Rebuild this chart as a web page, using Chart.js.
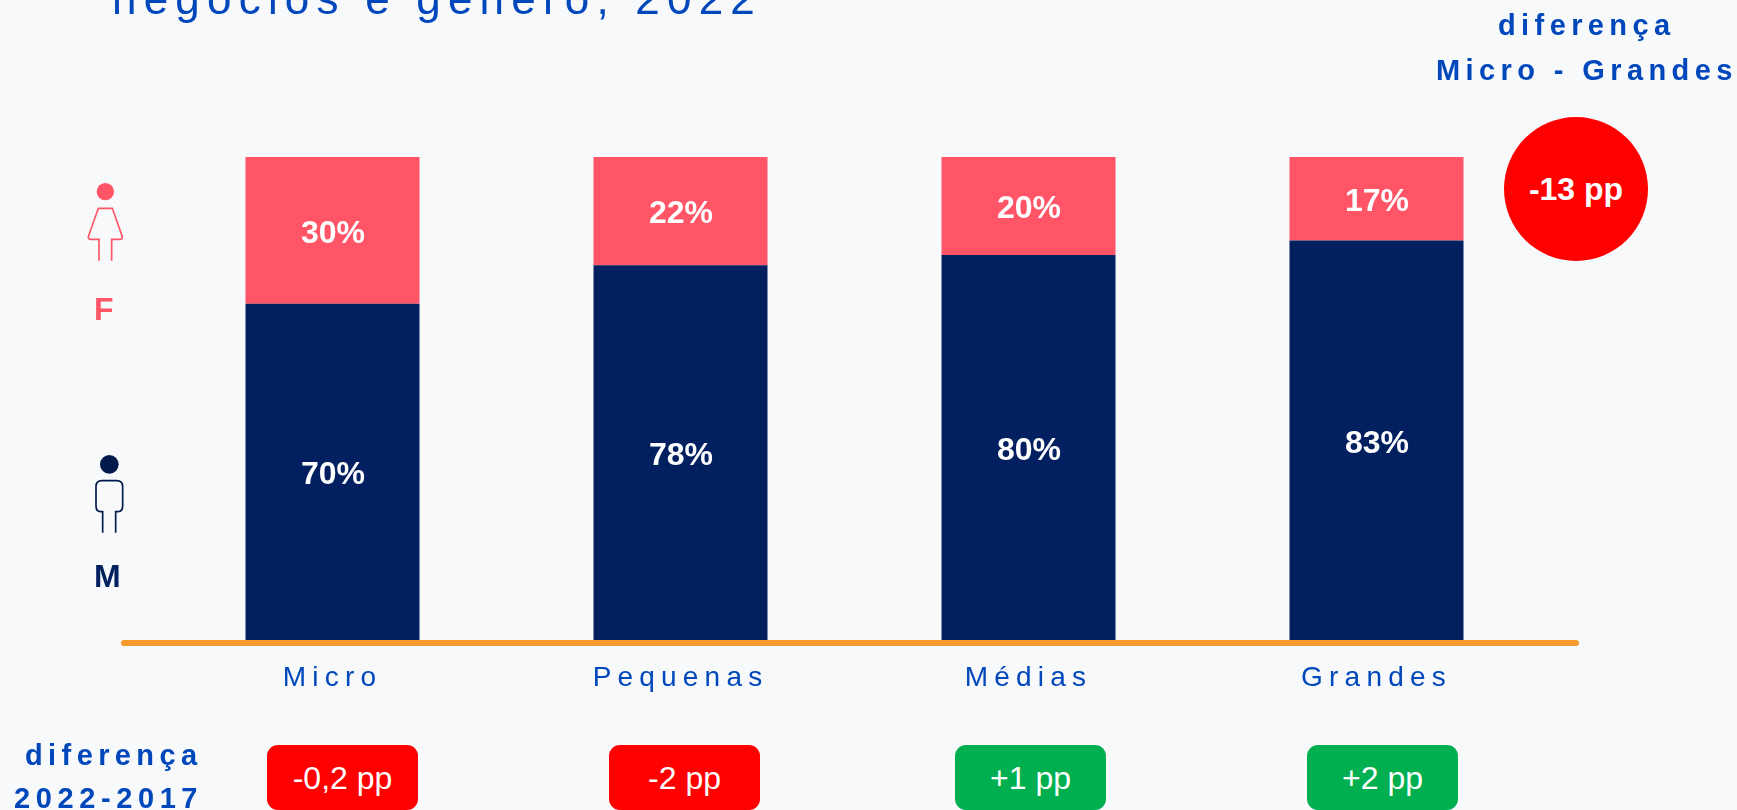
<!DOCTYPE html>
<html lang="pt">
<head>
<meta charset="utf-8">
<style>
  html,body{margin:0;padding:0;background:#F7F9FB;}
  #stage{position:relative;width:1737px;height:810px;overflow:hidden;background:#F7F9FB;font-family:"Liberation Sans",Arial,sans-serif;}
  canvas{position:absolute;left:0;top:0;}
  .t{position:absolute;white-space:nowrap;line-height:1;}
  .blue{color:#0047BB;}
  .pill{position:absolute;top:745px;width:151px;height:65px;border-radius:11px;color:#fff;font-size:32px;display:flex;align-items:center;justify-content:center;padding-top:2px;box-sizing:border-box;}
  #circle{position:absolute;left:1504px;top:117px;width:144px;height:144px;border-radius:50%;background:#FF0000;color:#fff;font-weight:bold;font-size:32px;display:flex;align-items:center;justify-content:center;}
  svg{position:absolute;left:70px;top:170px;}
</style>
</head>
<body>
<div id="stage">
  <canvas id="c" width="1737" height="810"></canvas>
  <div class="t blue" style="left:112px;top:-23px;font-size:44px;letter-spacing:7.2px;">negócios e gênero, 2022</div>
  <div class="t blue" style="left:1498px;top:11px;font-size:29px;font-weight:bold;letter-spacing:5.4px;">diferença</div>
  <div class="t blue" style="left:1436px;top:56px;font-size:29px;font-weight:bold;letter-spacing:5.4px;">Micro - Grandes</div>
  <div class="t blue" style="left:25px;top:741px;font-size:29px;font-weight:bold;letter-spacing:5.4px;">diferença</div>
  <div class="t blue" style="left:14px;top:784px;font-size:29px;font-weight:bold;letter-spacing:5.6px;">2022-2017</div>
  <div id="circle"></div>
  <svg width="100" height="440" viewBox="0 0 300 1320" fill="none" stroke-width="5">
    <circle cx="106" cy="65" r="26" fill="#FF5567"/>
    <path d="M87 272V208H62Q52 208 56 197L85 115H127L156 197Q160 208 150 208H125V272" stroke="#FF5567"/>
    <circle cx="118" cy="883" r="28" fill="#011A4B"/>
    <path d="M98 1088V1025H92Q78 1025 78 1008V950Q78 932 96 932H140Q158 932 158 950V1008Q158 1025 144 1025H137V1088" stroke="#011A4B"/>
  </svg>
  <div class="t" style="left:94px;top:293px;font-size:32px;font-weight:bold;color:#FF5567;">F</div>
  <div class="t" style="left:94px;top:560px;font-size:32px;font-weight:bold;color:#02205F;">M</div>
</div>
<script src="https://cdn.jsdelivr.net/npm/chart.js@4"></script>
<script>
const categories = ["Micro", "Pequenas", "Médias", "Grandes"];
const masculino = [69.6, 77.6, 79.7, 82.7];
const feminino = [30.4, 22.4, 20.3, 17.3];
const diferenca2022_2017 = ["-0,2 pp", "-2 pp", "+1 pp", "+2 pp"];
const diferencaMicroGrandes = "-13 pp";

const pillLefts = [267, 609, 955, 1307];
diferenca2022_2017.forEach((txt, i) => {
  const d = document.createElement('div');
  d.className = 'pill';
  d.textContent = txt;
  d.style.left = pillLefts[i] + 'px';
  d.style.background = txt.startsWith('-') ? '#FF0000' : '#00B050';
  document.getElementById('stage').appendChild(d);
});
document.getElementById('circle').textContent = diferencaMicroGrandes;

const decorations = {
  id: 'decorations',
  beforeDraw(chart) { chart.ctx.letterSpacing = '6.2px'; },
  beforeDatasetsDraw(chart) { chart.ctx.letterSpacing = '0px'; },
  afterDatasetsDraw(chart) {
    const ctx = chart.ctx;
    const base = chart.scales.y.getPixelForValue(0);
    ctx.save();
    ctx.strokeStyle = '#F79A2E';
    ctx.lineWidth = 6;
    ctx.lineCap = 'round';
    ctx.beginPath();
    ctx.moveTo(124, base + 3);
    ctx.lineTo(1576, base + 3);
    ctx.stroke();
    ctx.fillStyle = '#fff';
    ctx.font = 'bold 32px "Liberation Sans"';
    ctx.textAlign = 'center';
    ctx.textBaseline = 'middle';
    chart.data.datasets.forEach((ds, di) => {
      chart.getDatasetMeta(di).data.forEach((bar, i) => {
        const mid = (bar.y + bar.base) / 2;
        ctx.fillText(Math.round(ds.data[i]) + '%', bar.x + 0.5, mid + 3.5);
      });
    });
    ctx.restore();
  }
};

new Chart(document.getElementById('c'), {
  type: 'bar',
  data: {
    labels: categories,
    datasets: [
      { label: 'M', data: masculino, backgroundColor: '#02205F', barPercentage: 1, categoryPercentage: 0.5 },
      { label: 'F', data: feminino, backgroundColor: '#FF5567', barPercentage: 1, categoryPercentage: 0.5 }
    ]
  },
  options: {
    responsive: false,
    animation: false,
    layout: { padding: { left: 158.5, right: 186.5, top: 157, bottom: 0 } },
    plugins: { legend: { display: false }, title: { display: false }, tooltip: { enabled: false } },
    scales: {
      x: {
        stacked: true,
        afterFit(s) { s.height = 170; },
        grid: { display: false },
        border: { display: false },
        ticks: { color: '#0047BB', font: { family: '"Liberation Sans"', size: 28 }, padding: 13, maxRotation: 0, autoSkip: false }
      },
      y: { stacked: true, display: false, min: 0, max: 100 }
    }
  },
  plugins: [decorations]
});
</script>
</body>
</html>
